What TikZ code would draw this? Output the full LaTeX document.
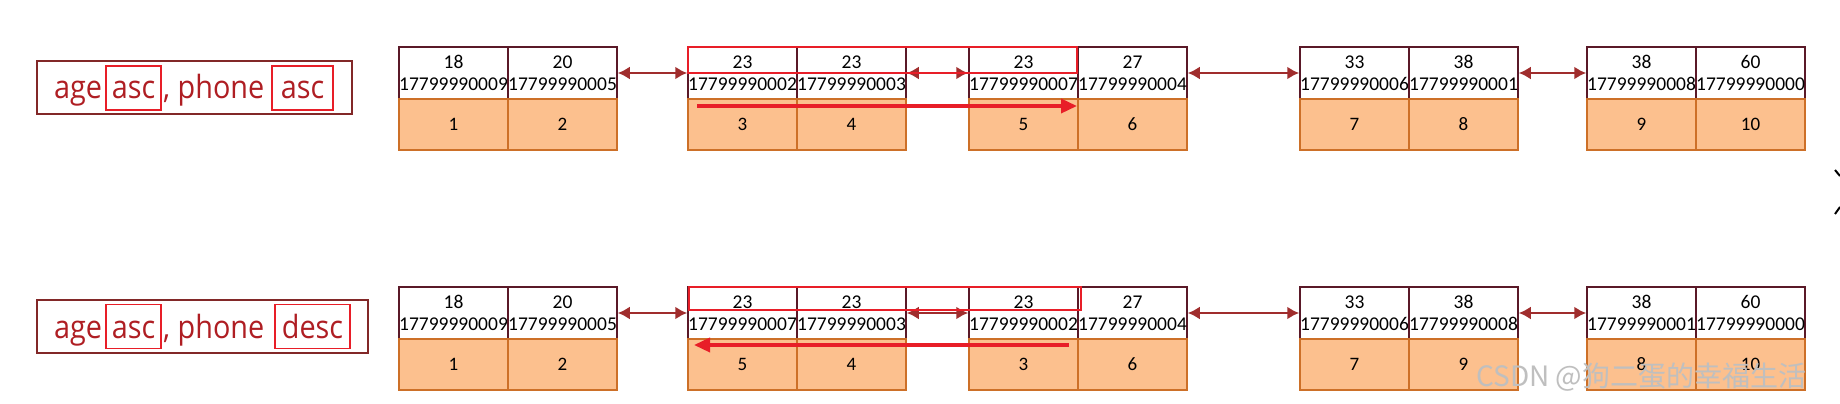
\documentclass[tikz,border=0pt]{standalone}
\usepackage{fontspec}
\setmainfont{Carlito}
\newfontfamily\lblfont[FakeStretch=0.9]{Open Sans}
\newfontfamily\cjkfont{Noto Sans CJK SC}
\usetikzlibrary{arrows.meta}
\definecolor{keyborder}{RGB}{90,25,40}
\definecolor{cellorange}{RGB}{252,192,142}
\definecolor{cellborder}{RGB}{205,112,40}
\definecolor{linkred}{RGB}{160,45,45}
\definecolor{hired}{RGB}{232,30,40}
\definecolor{lbltext}{RGB}{175,30,35}
\definecolor{lblborder}{RGB}{130,40,40}
\tikzset{
 keycell/.style={draw=keyborder, line width=1.5pt, fill=white, minimum width=109pt, minimum height=52pt, inner sep=0pt, align=center, font=\fontsize{19.5}{22}\selectfont},
 idcell/.style={draw=cellborder, line width=1.5pt, fill=cellorange, minimum width=109pt, minimum height=51pt, inner sep=0pt, font=\fontsize{19}{20}\selectfont},
 link/.style={draw=linkred, line width=2.3pt, {Latex[length=12pt,width=13pt]}-{Latex[length=12pt,width=13pt]}},
 hibox/.style={draw=hired, line width=2pt},
 scan/.style={draw=hired, line width=3.5pt, -{Triangle[length=16pt,width=14pt]}},
 lblbox/.style={draw=lblborder, line width=1.2pt, fill=white, inner sep=0pt},
 lbltxt/.style={text=lbltext, font=\lblfont\fontsize{32}{34}\selectfont, inner sep=0pt},
 kwbox/.style={draw=hired, line width=1.6pt, inner sep=0pt, minimum height=44pt},
}
\begin{document}
\begin{tikzpicture}[x=1pt,y=-1pt]
\useasboundingbox[fill=white] (0,0) rectangle (1840,404);

% top row
\foreach \g/\L/\ka/\pa/\kb/\pb/\ia/\ib in {
 1/399/18/17799990009/20/17799990005/1/2,
 2/688/23/17799990002/23/17799990003/3/4,
 3/969/23/17799990007/27/17799990004/5/6,
 4/1300/33/17799990006/38/17799990001/7/8,
 5/1587/38/17799990008/60/17799990000/9/10}{
 \node[keycell] (T\g a) at (\L+54.5,73) {\ka\\\pa};
 \node[keycell] (T\g b) at (\L+163.5,73) {\kb\\\pb};
 \node[idcell] (I\g a) at (\L+54.5,124.5) {\ia};
 \node[idcell] (I\g b) at (\L+163.5,124.5) {\ib};
}
% bottom row
\foreach \g/\L/\ka/\pa/\kb/\pb/\ia/\ib in {
 1/399/18/17799990009/20/17799990005/1/2,
 2/688/23/17799990007/23/17799990003/5/4,
 3/969/23/17799990002/27/17799990004/3/6,
 4/1300/33/17799990006/38/17799990008/7/9,
 5/1587/38/17799990001/60/17799990000/8/10}{
 \node[keycell] (B\g a) at (\L+54.5,313) {\ka\\\pa};
 \node[keycell] (B\g b) at (\L+163.5,313) {\kb\\\pb};
 \node[idcell] (J\g a) at (\L+54.5,364.5) {\ia};
 \node[idcell] (J\g b) at (\L+163.5,364.5) {\ib};
}

% links
\draw[link] (T1b.east) -- (T2a.west);
\draw[link] (T2b.east) -- (T3a.west);
\draw[link] (T3b.east) -- (T4a.west);
\draw[link] (T4b.east) -- (T5a.west);
\draw[link] (B1b.east) -- (B2a.west);
\draw[link] (B2b.east) -- (B3a.west);
\draw[link] (B3b.east) -- (B4a.west);
\draw[link] (B4b.east) -- (B5a.west);

% highlight boxes and scan arrows
\draw[hibox] (688,47) rectangle (1077,73);
\draw[hibox] (689,287) rectangle (1081,310);
\coordinate (s1) at (697,106);
\coordinate (e1) at (1077,106);
\coordinate (s2) at (1069,345);
\coordinate (e2) at (694,345);
\draw[scan] (s1) -- (e1);
\draw[scan] (s2) -- (e2);

% labels
\node[lblbox, minimum width=315pt, minimum height=53pt] (L1) at (194.5,87.5) {};
\node[kwbox, minimum width=55pt] (K1) at (133.5,88) {};
\node[kwbox, minimum width=61pt] (K2) at (302.5,88) {};
\node[lbltxt, anchor=base] (a1) at (78,99) {age};
\node[lbltxt, anchor=base] (a2) at (133.5,99) {asc};
\node[lbltxt, anchor=base west] (a3) at (163,99) {, phone};
\node[lbltxt, anchor=base] (a4) at (302.5,99) {asc};

\node[lblbox, minimum width=331pt, minimum height=53pt] (L2) at (202.5,326.5) {};
\node[kwbox, minimum width=55pt] (K3) at (133.5,326.5) {};
\node[kwbox, minimum width=75pt] (K4) at (312.5,326.5) {};
\node[lbltxt, anchor=base] (b1) at (78,338) {age};
\node[lbltxt, anchor=base] (b2) at (133.5,338) {asc};
\node[lbltxt, anchor=base west] (b3) at (163,338) {, phone};
\node[lbltxt, anchor=base] (b4) at (312.5,338) {desc};

% edge marks
\draw[line width=2pt] (1835,170) -- (1840,176);
\draw[line width=2pt] (1835,214) -- (1840,207);

% watermark
\node[anchor=west, text=black!25, inner sep=0pt, font=\cjkfont\fontsize{28}{30}\selectfont] (wm) at (1476,377) {CSDN @狗二蛋的幸福生活};
\end{tikzpicture}
\end{document}
